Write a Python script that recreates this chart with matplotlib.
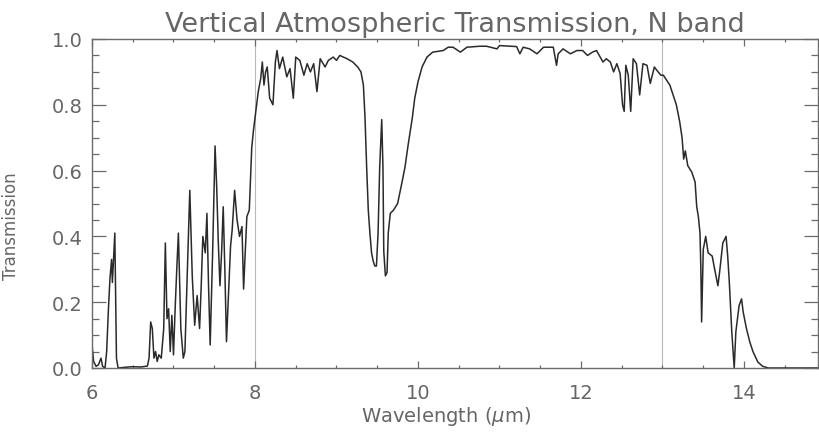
import matplotlib
matplotlib.use('Agg')
import matplotlib.pyplot as plt
from matplotlib.ticker import MultipleLocator

# Atmospheric transmission through the N band (zenith)
wavelength = [
    6.00, 6.02, 6.05, 6.08, 6.11, 6.13, 6.16, 6.18, 6.20, 6.22, 6.24, 6.25,
    6.27, 6.28, 6.29, 6.30, 6.32, 6.40, 6.50, 6.60, 6.68, 6.70, 6.72, 6.74,
    6.76, 6.78, 6.80, 6.82, 6.85, 6.88, 6.90, 6.92, 6.94, 6.96, 6.98, 7.00,
    7.02, 7.04, 7.06, 7.09, 7.12, 7.14, 7.17, 7.20, 7.23, 7.26, 7.29, 7.32,
    7.34, 7.36, 7.39, 7.41, 7.43, 7.45, 7.48, 7.51, 7.53, 7.55, 7.57, 7.59,
    7.61, 7.63, 7.65, 7.68, 7.70, 7.72, 7.75, 7.78, 7.81, 7.84, 7.86, 7.88,
    7.90, 7.93, 7.96, 7.98, 8.00, 8.02, 8.04, 8.07, 8.09, 8.11, 8.13, 8.15,
    8.18, 8.22, 8.25, 8.27, 8.30, 8.34, 8.39, 8.43, 8.47, 8.50, 8.55, 8.60,
    8.64, 8.68, 8.72, 8.76, 8.80, 8.86, 8.90, 8.96, 9.00, 9.04, 9.13, 9.20,
    9.26, 9.30, 9.33, 9.35, 9.37, 9.39, 9.41, 9.43, 9.45, 9.47, 9.49, 9.51,
    9.53, 9.555, 9.57, 9.58, 9.60, 9.62, 9.635, 9.66, 9.70, 9.75, 9.80, 9.84,
    9.88, 9.93, 9.96, 10.00, 10.05, 10.11, 10.18, 10.31, 10.37, 10.43, 10.52,
    10.60, 10.76, 10.84, 10.97, 11.00, 11.21, 11.25, 11.29, 11.37, 11.46,
    11.54, 11.66, 11.70, 11.72, 11.78, 11.87, 11.95, 12.02, 12.08, 12.14,
    12.19, 12.27, 12.31, 12.36, 12.40, 12.44, 12.48, 12.51, 12.53, 12.55,
    12.58, 12.61, 12.64, 12.68, 12.72, 12.76, 12.81, 12.85, 12.90, 12.93,
    12.98, 13.01, 13.05, 13.09, 13.13, 13.17, 13.21, 13.24, 13.26, 13.28,
    13.31, 13.36, 13.40, 13.42, 13.44, 13.46, 13.47, 13.48, 13.50, 13.53,
    13.56, 13.61, 13.64, 13.68, 13.70, 13.74, 13.78, 13.80, 13.82, 13.85,
    13.88, 13.90, 13.94, 13.97, 13.99, 14.03, 14.07, 14.11, 14.17, 14.23,
    14.30, 14.92,
]
transmission = [
    0.07, 0.02, 0.005, 0.01, 0.03, 0.005, 0.0, 0.05, 0.17, 0.27, 0.33, 0.26,
    0.36, 0.41, 0.22, 0.03, 0.0, 0.002, 0.004, 0.003, 0.006, 0.03, 0.14, 0.12,
    0.03, 0.05, 0.02, 0.04, 0.03, 0.12, 0.38, 0.15, 0.18, 0.05, 0.16, 0.04,
    0.18, 0.30, 0.41, 0.12, 0.03, 0.05, 0.30, 0.54, 0.28, 0.13, 0.22, 0.12,
    0.25, 0.40, 0.35, 0.47, 0.25, 0.07, 0.35, 0.675, 0.55, 0.38, 0.25, 0.35,
    0.49, 0.30, 0.08, 0.25, 0.37, 0.42, 0.54, 0.45, 0.40, 0.43, 0.24, 0.35,
    0.46, 0.48, 0.67, 0.72, 0.76, 0.80, 0.84, 0.88, 0.93, 0.86, 0.90, 0.915,
    0.82, 0.80, 0.93, 0.965, 0.91, 0.945, 0.885, 0.91, 0.82, 0.945, 0.935, 0.89,
    0.925, 0.90, 0.925, 0.84, 0.94, 0.915, 0.935, 0.945, 0.935, 0.95, 0.94, 0.93,
    0.915, 0.90, 0.86, 0.76, 0.61, 0.48, 0.41, 0.35, 0.325, 0.31, 0.31, 0.41,
    0.61, 0.755, 0.61, 0.355, 0.28, 0.29, 0.41, 0.47, 0.48, 0.50, 0.56, 0.61,
    0.68, 0.76, 0.82, 0.87, 0.915, 0.945, 0.96, 0.965, 0.975, 0.975, 0.96,
    0.975, 0.978, 0.978, 0.97, 0.98, 0.977, 0.955, 0.975, 0.97, 0.955,
    0.975, 0.975, 0.92, 0.955, 0.97, 0.955, 0.965, 0.965, 0.95, 0.96,
    0.965, 0.93, 0.94, 0.93, 0.90, 0.925, 0.895, 0.80, 0.78, 0.92,
    0.89, 0.78, 0.94, 0.925, 0.83, 0.925, 0.92, 0.865, 0.915, 0.905,
    0.89, 0.89, 0.875, 0.86, 0.83, 0.80, 0.75, 0.70, 0.635, 0.66,
    0.615, 0.595, 0.565, 0.49, 0.46, 0.41, 0.31, 0.14, 0.36, 0.40,
    0.35, 0.34, 0.30, 0.25, 0.29, 0.38, 0.40, 0.34, 0.26, 0.11,
    0.0, 0.11, 0.19, 0.21, 0.17, 0.12, 0.08, 0.05, 0.018, 0.005,
    0.0, 0.0,
]
band_edges = [8, 13]

text_color = '#666666'
axis_color = '#6a6a6a'

fig = plt.figure(figsize=(8.2, 4.35), dpi=100)
ax = fig.add_axes([92 / 820, 66 / 435, 726 / 820, 329 / 435])

for edge in band_edges:
    ax.axvline(edge, color='#b8b8b8', lw=0.8, zorder=1)

ax.plot(wavelength, transmission, color='#2a2a2a', lw=1.1, zorder=2)

ax.set_xlim(6, 14.908)
ax.set_ylim(0, 1.0)
ax.xaxis.set_major_locator(MultipleLocator(2))
ax.xaxis.set_minor_locator(MultipleLocator(0.5))
ax.yaxis.set_major_locator(MultipleLocator(0.2))
ax.yaxis.set_minor_locator(MultipleLocator(0.05))
ax.yaxis.set_major_formatter(plt.FormatStrFormatter('%.1f'))

ax.tick_params(which='both', direction='in', top=True, right=True,
               color=axis_color, labelcolor=text_color, width=0.9)
ax.tick_params(axis='x', which='major', length=5, pad=11, labelsize=14)
ax.tick_params(axis='x', which='minor', length=2.5)
ax.tick_params(axis='y', which='major', length=10, pad=7, labelsize=14)
ax.tick_params(axis='y', which='minor', length=5)
for spine in ax.spines.values():
    spine.set_color(axis_color)
    spine.set_linewidth(1.0)

ax.set_title('Vertical Atmospheric Transmission, N band', fontsize=19.5,
             color=text_color, pad=6)
ax.set_xlabel(r'Wavelength ($\mu$m)', fontsize=14, color=text_color)
ax.set_ylabel('Transmission', fontsize=12, color=text_color)
ax.xaxis.set_label_coords(0.488, -0.108)
ax.yaxis.set_label_coords(-0.099, 0.435)

fig.savefig('out.png', dpi=100, facecolor='white')
